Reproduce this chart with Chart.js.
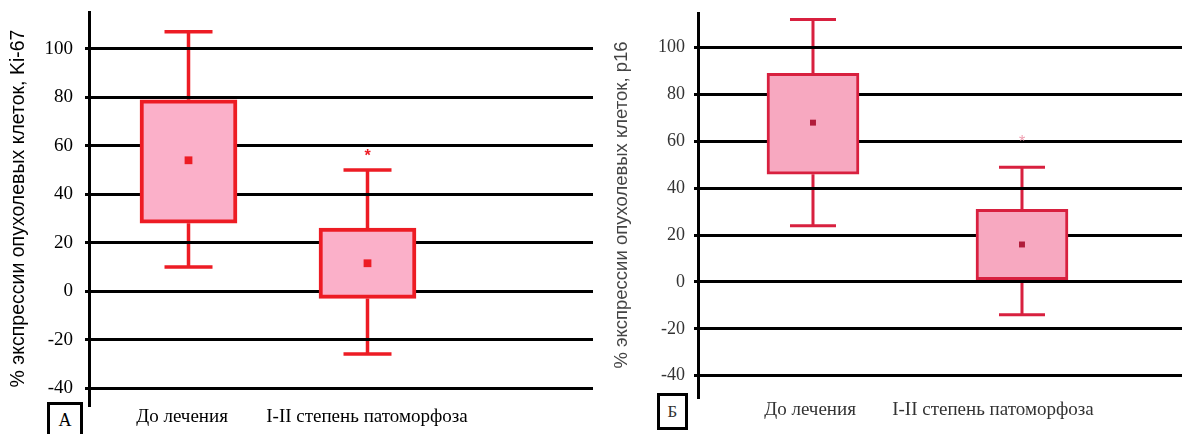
<!DOCTYPE html>
<html>
<head>
<meta charset="utf-8">
<script src="https://cdn.jsdelivr.net/npm/chart.js@4.4.1/dist/chart.umd.min.js"></script>
<style>
  html, body { margin: 0; padding: 0; background: #fff; }
  body { width: 1182px; height: 434px; position: relative; overflow: hidden; }
  #panelA { position: absolute; left: 0; top: 0; width: 600px; height: 434px; }
  #panelB { position: absolute; left: 600px; top: 0; width: 582px; height: 434px; filter: blur(0.5px); }
  .tag { position: absolute; box-sizing: border-box; border: 3px solid #000; background: #fff;
         font-family: "Liberation Serif", serif; text-align: center; }
  #tagA { left: 47px; top: 402px; width: 36px; height: 40px; font-size: 18px; line-height: 30px; color: #000; }
  #tagB { left: 57px; top: 393px; width: 31px; height: 37px; font-size: 17px; line-height: 31px; color: #333; }
</style>
</head>
<body>
<div id="panelA">
  <canvas id="chartA" width="600" height="434"></canvas>
  <div class="tag" id="tagA">А</div>
</div>
<div id="panelB">
  <canvas id="chartB" width="582" height="434"></canvas>
  <div class="tag" id="tagB">Б</div>
</div>
<script>
// Groups compared on both panels
const categories = ['До лечения', 'I-II степень патоморфоза'];
const yTickValues = [-40, -20, 0, 20, 40, 60, 80, 100];

// Ki-67 expression, % of tumour cells
const ki67Min  = [10, -26];
const ki67Q1   = [28, -3];
const ki67Q3   = [79, 26];
const ki67Max  = [107, 50];
const ki67Mean = [54, 11.5];
const ki67Significant = [false, true];

// p16 expression, % of tumour cells
const p16Min  = [24, -14];
const p16Q1   = [46, 1];
const p16Q3   = [89, 31];
const p16Max  = [112, 49];
const p16Mean = [68, 16];
const p16Significant = [false, true];

// Whiskers go under the grid lines; significance stars go on top of everything
const whiskerPlugin = {
  id: 'whiskers',
  beforeDraw(chart, args, o) {
    const { ctx, scales: { x, y } } = chart;
    ctx.save();
    ctx.strokeStyle = o.color;
    ctx.lineWidth = o.width;
    ctx.lineCap = 'butt';
    o.min.forEach((lo, i) => {
      const px = x.getPixelForValue(i + 1);
      const yMin = y.getPixelForValue(lo), yQ1 = y.getPixelForValue(o.q1[i]);
      const yQ3 = y.getPixelForValue(o.q3[i]), yMax = y.getPixelForValue(o.max[i]);
      ctx.beginPath();
      ctx.moveTo(px, yMax); ctx.lineTo(px, yQ3);
      ctx.moveTo(px, yQ1); ctx.lineTo(px, yMin);
      ctx.moveTo(px - o.cap / 2, yMax); ctx.lineTo(px + o.cap / 2, yMax);
      ctx.moveTo(px - o.cap / 2, yMin); ctx.lineTo(px + o.cap / 2, yMin);
      ctx.stroke();
    });
    ctx.restore();
  },
  afterDraw(chart, args, o) {
    const { ctx, scales: { x, y } } = chart;
    ctx.save();
    ctx.fillStyle = o.starColor;
    ctx.font = o.starFont;
    ctx.textAlign = 'center';
    ctx.textBaseline = 'middle';
    o.marked.forEach((m, i) => {
      if (!m) return;
      ctx.fillText('*', x.getPixelForValue(i + 1), y.getPixelForValue(o.max[i]) - o.starGap);
    });
    ctx.restore();
  }
};

function boxChart(id, s, look) {
  const xs = categories.map((c, i) => i + 1);
  return new Chart(document.getElementById(id), {
    type: 'bar',
    data: {
      datasets: [
        {
          type: 'bar',
          data: xs.map((v, i) => ({ x: v, y: [s.q1[i], s.q3[i]] })),
          backgroundColor: look.fill,
          borderColor: look.edge,
          borderWidth: look.edgeWidth,
          borderSkipped: false,
          barThickness: look.boxWidth,
          order: 2
        },
        {
          type: 'scatter',
          data: xs.map((v, i) => ({ x: v, y: s.mean[i] })),
          pointStyle: 'rect',
          pointRadius: look.dotRadius,
          backgroundColor: look.dot,
          borderWidth: 0,
          order: 1
        }
      ]
    },
    options: {
      responsive: false,
      animation: false,
      layout: { autoPadding: false, padding: { top: look.top, right: look.right, left: 0, bottom: 0 } },
      plugins: {
        legend: { display: false },
        tooltip: { enabled: false },
        whiskers: {
          min: s.min, q1: s.q1, q3: s.q3, max: s.max, marked: s.marked,
          color: look.whisker, width: look.whiskerWidth, cap: look.cap,
          starColor: look.star, starFont: look.starFont, starGap: look.starGap
        }
      },
      scales: {
        x: {
          type: 'linear',
          offset: false,
          min: look.xMin, max: look.xMax,
          grid: { display: false, drawTicks: false, offset: false },
          border: { display: false },
          // group names sit slightly left of their boxes
          afterBuildTicks: sc => { sc.ticks = xs.map((v, i) => ({ value: v + look.labelShift[i] })); },
          afterFit: sc => { sc.height = look.xAxisHeight; sc.paddingLeft = 0; sc.paddingRight = 0; },
          ticks: {
            padding: look.xPad,
            maxRotation: 0, autoSkip: false,
            color: look.text,
            font: { family: 'Liberation Serif', size: look.catSize },
            callback: (v, i) => categories[i]
          }
        },
        y: {
          min: look.yMin, max: look.yMax,
          afterBuildTicks: sc => { sc.ticks = yTickValues.map(v => ({ value: v })); },
          afterFit: sc => { sc.width = look.axisLeft; sc.paddingTop = 0; sc.paddingBottom = 0; },
          grid: { color: '#000', lineWidth: look.gridWidth, tickLength: 4, drawTicks: true },
          border: { color: '#000', width: 3 },
          ticks: {
            padding: look.tickPad,
            color: look.text,
            font: { family: 'Liberation Serif', size: look.tickSize },
            callback: v => String(v)
          },
          title: {
            display: true,
            text: look.title,
            color: look.titleColor,
            font: { family: 'Liberation Sans', size: look.titleSize },
            padding: { top: look.titlePad, bottom: 0 }
          }
        }
      }
    },
    plugins: [whiskerPlugin]
  });
}

boxChart('chartA',
  { min: ki67Min, q1: ki67Q1, q3: ki67Q3, max: ki67Max, mean: ki67Mean, marked: ki67Significant },
  {
    title: '% экспрессии опухолевых клеток, Ki-67',
    fill: '#fbb0c9', edge: '#ed1c24', edgeWidth: 4, boxWidth: 97,
    dot: '#ed1c24', dotRadius: 5.5,
    whisker: '#ed1c24', whiskerWidth: 3.5, cap: 48,
    star: '#ed1c24', starFont: 'bold 16px "Liberation Sans"', starGap: 13,
    top: 12, right: 7, axisLeft: 89, xAxisHeight: 29, xPad: 1,
    xMin: 0.4441, xMax: 3.2598, yMin: -47, yMax: 115.2, labelShift: [-0.036, -0.003],
    gridWidth: 3, tickPad: 12, tickSize: 19, catSize: 19,
    text: '#000', titleColor: '#000', titleSize: 19.5, titlePad: 7
  });

boxChart('chartB',
  { min: p16Min, q1: p16Q1, q3: p16Q3, max: p16Max, mean: p16Mean, marked: p16Significant },
  {
    title: '% экспрессии опухолевых клеток, p16',
    fill: '#f7a8c0', edge: '#d8203f', edgeWidth: 3, boxWidth: 92,
    dot: '#b01c3a', dotRadius: 4.2,
    whisker: '#d8203f', whiskerWidth: 3, cap: 46,
    star: '#f0a0b2', starFont: '16px "Liberation Sans"', starGap: 25,
    top: 13, right: 0, axisLeft: 98, xAxisHeight: 37, xPad: 2,
    xMin: 0.4498, xMax: 2.7656, yMin: -49.1, yMax: 114.8, labelShift: [-0.014, -0.139],
    gridWidth: 3, tickPad: 9, tickSize: 18, catSize: 19,
    text: '#333', titleColor: '#444', titleSize: 18.5, titlePad: 11
  });
</script>
</body>
</html>
